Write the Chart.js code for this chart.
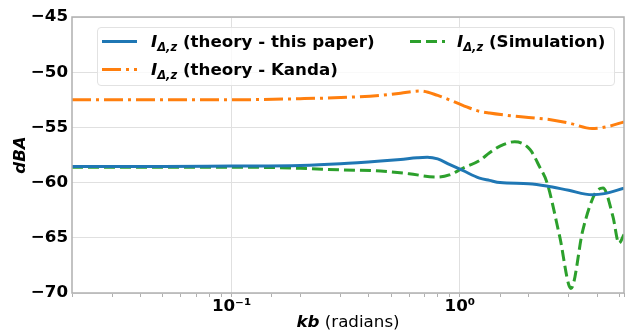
<!DOCTYPE html>
<html>
<head>
<meta charset="utf-8">
<script src="https://cdn.jsdelivr.net/npm/chart.js@4"></script>
<style>
  body { margin: 0; background: #fff; }
  #wrap { position: relative; width: 631px; height: 332px; font-family: 'DejaVu Sans', sans-serif; }
  #legend {
    position: absolute; left: 97px; top: 27px; width: 518px; height: 59px;
    border: 1px solid #e2e2e2; border-radius: 4px; background: rgba(255,255,255,0.8);
    box-sizing: border-box;
  }
  .item { position: absolute; height: 20px; white-space: nowrap; font-size: 16.7px; font-weight: bold; line-height: 20px; }
  .item svg { position: absolute; left: 0; top: 0; }
  .item span { position: absolute; top: 0; }
  .item sub { font-size: 11.5px; vertical-align: -4px; line-height: 0; font-style: italic; }
  #xtitle { position: absolute; top: 313px; left: 0; width: 696px; text-align: center; font-size: 16.7px; line-height: 16.7px; }
</style>
</head>
<body>
<div id="wrap">
  <canvas id="chart"></canvas>
  <div id="legend"></div>
  <div id="xtitle"><b><i>kb</i></b> (radians)</div>
</div>
<script>
// kb (radians) and dBA
const kbThisPaper = [0.02, 0.05, 0.1, 0.2, 0.3, 0.45, 0.55, 0.65, 0.72, 0.8, 0.9, 1.03, 1.22, 1.35, 1.5, 2.0, 2.4, 3.0, 3.8, 4.3, 5.24];
const dbThisPaper = [-58.55, -58.55, -58.5, -58.45, -58.3, -58.05, -57.9, -57.75, -57.7, -57.85, -58.35, -58.9, -59.6, -59.8, -60.0, -60.1, -60.3, -60.7, -61.1, -61.0, -60.5];

const kbKanda = [0.02, 0.05, 0.1, 0.2, 0.3, 0.45, 0.55, 0.67, 0.8, 1.03, 1.2, 1.35, 1.6, 2.0, 2.5, 3.0, 3.8, 4.5, 5.24];
const dbKanda = [-52.5, -52.5, -52.5, -52.4, -52.3, -52.1, -51.9, -51.7, -52.1, -53.0, -53.5, -53.7, -53.9, -54.1, -54.3, -54.6, -55.1, -54.9, -54.5];

const kbSim = [0.02, 0.05, 0.1, 0.2, 0.3, 0.45, 0.6, 0.79, 0.9, 1.03, 1.22, 1.35, 1.5, 1.74, 2.03, 2.24, 2.41, 2.74, 3.07, 3.46, 3.91, 4.24, 4.69, 4.98, 5.24];
const dbSim = [-58.6, -58.6, -58.6, -58.7, -58.85, -58.95, -59.2, -59.5, -59.3, -58.7, -58.0, -57.3, -56.7, -56.3, -57.0, -58.6, -60.0, -64.9, -69.6, -64.3, -61.0, -60.5, -63.1, -65.5, -64.7];

const seriesNames = ['(theory - this paper)', '(theory - Kanda)', '(Simulation)'];
const yTicks = [-70, -65, -60, -55, -50, -45];

const toPoints = (xs, ys) => xs.map((x, i) => ({ x: x, y: ys[i] }));
const isDecade = v => Math.abs(Math.log10(v) - Math.round(Math.log10(v))) < 1e-9;
const sup = { '-': '⁻', '0': '⁰', '1': '¹', '2': '²', '3': '³' };
const font = { family: 'DejaVu Sans', size: 16.7, weight: 'bold' };

// frame round the plot area, like matplotlib spines
const frame = {
    id: 'frame',
    afterDatasetsDraw(chart) {
        const a = chart.chartArea, c = chart.ctx;
        c.save();
        c.strokeStyle = '#b0b0b0';
        c.lineWidth = 1.5;
        c.strokeRect(a.left, a.top, a.right - a.left, a.bottom - a.top);
        c.restore();
    }
};

// two-column legend in html so the subscript stays real text
const htmlLegend = {
    id: 'htmlLegend',
    afterUpdate(chart) {
        const box = document.getElementById('legend');
        box.innerHTML = '';
        chart.data.datasets.forEach((ds, i) => {
            const col = Math.floor(i / 2), row = i % 2;
            const item = document.createElement('div');
            item.className = 'item';
            item.style.left = (col === 0 ? 4 : 312) + 'px';
            item.style.top = (row === 0 ? 3 : 31) + 'px';
            const dash = ds.borderDash && ds.borderDash.length ? ds.borderDash.join(',') : 'none';
            item.innerHTML =
                '<svg width="36" height="20"><line x1="0" y1="10.5" x2="35" y2="10.5" stroke="' + ds.borderColor +
                '" stroke-width="3" stroke-dasharray="' + dash + '"/></svg>' +
                '<span style="left:' + (col === 0 ? 49 : 47) + 'px"><i>I</i><sub>Δ,z</sub> ' + seriesNames[i] + '</span>';
            box.appendChild(item);
        });
    }
};

const ctx = document.getElementById('chart').getContext('2d');
new Chart(ctx, {
    type: 'line',
    data: {
        datasets: [{
            label: 'IΔ,z ' + seriesNames[0],
            data: toPoints(kbThisPaper, dbThisPaper),
            borderColor: '#1f77b4',
            borderWidth: 3,
            borderDash: [],
            pointRadius: 0,
            cubicInterpolationMode: 'monotone'
        }, {
            label: 'IΔ,z ' + seriesNames[1],
            data: toPoints(kbKanda, dbKanda),
            borderColor: '#ff7f0e',
            borderWidth: 3,
            borderDash: [19, 5, 3, 5],
            pointRadius: 0,
            cubicInterpolationMode: 'monotone'
        }, {
            label: 'IΔ,z ' + seriesNames[2],
            data: toPoints(kbSim, dbSim),
            borderColor: '#2ca02c',
            borderWidth: 3,
            borderDash: [11, 5],
            pointRadius: 0,
            cubicInterpolationMode: 'monotone'
        }]
    },
    options: {
        responsive: true,
        maintainAspectRatio: false,
        animation: false,
        layout: { padding: { top: 17, right: 7, left: 0, bottom: 0 } },
        plugins: { legend: { display: false }, tooltip: { enabled: false } },
        scales: {
            x: {
                type: 'logarithmic',
                min: 0.02,
                max: 5.24,
                border: { display: false },
                grid: {
                    color: c => (c.tick && isDecade(c.tick.value)) ? '#e0e0e0' : 'rgba(0,0,0,0)',
                    tickColor: '#b0b0b0',
                    tickLength: 4
                },
                ticks: {
                    autoSkip: false,
                    maxRotation: 0,
                    padding: 0,
                    color: '#000',
                    font: font,
                    callback: v => isDecade(v) ? '10' + String(Math.round(Math.log10(v))).split('').map(ch => sup[ch]).join('') : ''
                },
                afterFit: s => { s.height = 39; }
            },
            y: {
                min: -70,
                max: -45,
                border: { display: false },
                grid: { color: '#e0e0e0', drawTicks: false },
                afterBuildTicks: s => { s.ticks = yTicks.map(v => ({ value: v })); },
                ticks: {
                    padding: 4,
                    color: '#000',
                    font: font,
                    callback: v => (v < 0 ? '−' : '') + Math.abs(v)
                },
                title: {
                    display: true,
                    text: 'dBA',
                    color: '#000',
                    padding: { top: 11, bottom: 0 },
                    font: { family: 'DejaVu Sans', size: 16.7, weight: 'bold', style: 'italic' }
                },
                afterFit: s => { s.width = 72; }
            }
        }
    },
    plugins: [frame, htmlLegend]
});
</script>
</body>
</html>
